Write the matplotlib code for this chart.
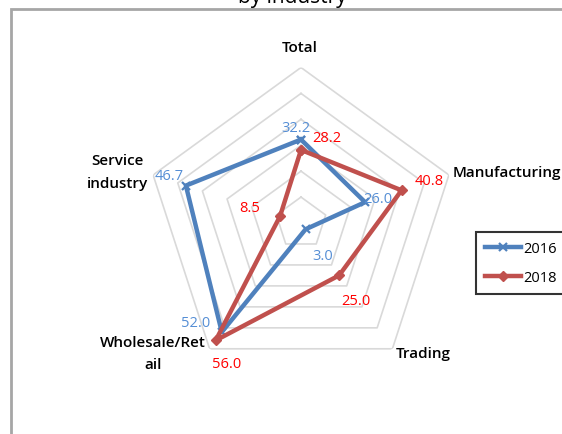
import numpy as np
import matplotlib
matplotlib.use("Agg")
import matplotlib.pyplot as plt
from matplotlib.patches import Rectangle

plt.rcParams['font.family'] = ['Open Sans', 'DejaVu Sans']

categories = ["Total", "Manufacturing", "Trading", "Wholesale/Ret\nail", "Service\nindustry"]
series_names = ["2016", "2018"]
values_2016 = [32.2, 26.0, 3.0, 52.0, 46.7]
values_2018 = [28.2, 40.8, 25.0, 56.0, 8.5]
ring_levels = [10, 20, 30, 40, 50, 60]
title_text = "by industry"

# styling
blue = "#4f81bd"
red = "#c0504d"
blue_lbl = "#558ed5"
red_lbl = "#ff0000"
grid_c = "#d9d9d9"

W, H = 562, 435
fig = plt.figure(figsize=(W / 100, H / 100), dpi=100)
cx, cy, R = 301, 224, 155.5
ax = fig.add_axes([(cx - R) / W, 1 - (cy + R) / H, 2 * R / W, 2 * R / H], projection="polar")
ax.set_theta_offset(np.pi / 2)
ax.set_theta_direction(-1)
ax.set_ylim(0, ring_levels[-1])
ax.grid(False)
ax.spines["polar"].set_visible(False)
ax.set_xticks([])
ax.set_yticks([])
ax.patch.set_visible(False)

n = len(categories)
angles = np.linspace(0, 2 * np.pi, n, endpoint=False)
ang_c = np.append(angles, angles[0])

for lv in ring_levels:
    ax.plot(ang_c, [lv] * (n + 1), color=grid_c, lw=1.2, zorder=1)

v16 = np.append(values_2016, values_2016[0])
v18 = np.append(values_2018, values_2018[0])
ax.plot(ang_c, v16, color=blue, lw=3.2, marker="x", ms=6, mew=1.6, label=series_names[0], zorder=3)
ax.plot(ang_c, v18, color=red, lw=3.2, marker="D", ms=5, mew=1, label=series_names[1], zorder=4)

off16 = [(-5, 12), (13, 4), (17, -26), (-26, 10), (-17, 10)]
off18 = [(26, 12), (28, 10), (17, -25), (11, -23), (-30, 9)]
for a, v, o in zip(angles, values_2016, off16):
    ax.annotate(f"{v:.1f}", xy=(a, v), xytext=o, textcoords="offset pixels",
                ha="center", va="center", color=blue_lbl, fontsize=10.5, zorder=6)
for a, v, o in zip(angles, values_2018, off18):
    ax.annotate(f"{v:.1f}", xy=(a, v), xytext=o, textcoords="offset pixels",
                ha="center", va="center", color=red_lbl, fontsize=10.5, zorder=6)

cat_off = [(-1, 20), (58, 3), (31, -4), (-57, -4), (-36, 3.5)]
for a, c, o in zip(angles, categories, cat_off):
    ax.annotate(c, xy=(a, ring_levels[-1]), xytext=o, textcoords="offset pixels",
                ha="center", va="center", color="#000000", fontsize=11,
                fontweight="semibold", linespacing=1.75, annotation_clip=False)

leg = fig.legend(loc="upper left", bbox_to_anchor=(476 / W, 1 - 233 / H), borderaxespad=0,
                 frameon=True, fancybox=False, edgecolor="black", fontsize=10.5,
                 handlelength=2.5, handletextpad=0.15, labelspacing=1.0, borderpad=0.6)
leg.get_frame().set_linewidth(1.5)

fig.add_artist(Rectangle((11 / W, -0.1), 1.2, 1.1 - 10 / H, transform=fig.transFigure,
                         fill=False, edgecolor="#a6a6a6", lw=2))

fig.text(292 / W, 1 - 2.7 / H, title_text, ha="center", va="baseline", fontsize=15, color="#000000")

fig.savefig("out.png", dpi=100)
